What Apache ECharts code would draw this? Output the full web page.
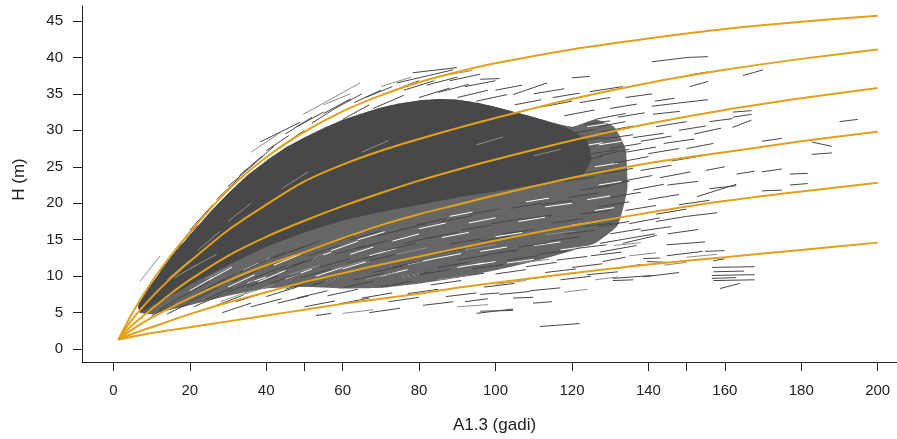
<!DOCTYPE html>
<html><head><meta charset="utf-8">
<script src="https://cdn.jsdelivr.net/npm/echarts@6/dist/echarts.min.js"></script>
<style>html,body{margin:0;padding:0;background:#fff}#c{width:897px;height:439px}</style>
</head><body><div id="c"></div>
<script>
// ---- data ----
const xTickValues = [0,20,40,50,60,80,100,120,140,150,160,180,200];
const xLabelValues = [0,20,40,60,80,100,120,140,160,180,200];
const yLabelValues = [0,5,10,15,20,25,30,35,40,45];
const ageGrid = [1.3,5,10,15,20,30,40,50,60,70,80,90,100,120,140,160,180,200];
const curve1 = [1.3,5.0,9.2,12.8,16.0,21.8,26.3,29.8,32.6,34.8,36.6,38.0,39.2,41.1,42.6,43.9,44.9,45.7];
const curve2 = [1.3,4.1,7.1,9.7,12.0,16.3,19.8,23.0,25.3,27.2,28.8,30.3,31.7,34.3,36.5,38.3,39.8,41.1];
const curve3 = [1.3,3.3,5.5,7.6,9.5,12.8,15.4,17.6,19.6,21.4,23.1,24.6,26.0,28.6,30.9,32.8,34.4,35.8];
const curve4 = [1.3,2.7,4.3,5.7,7.0,9.4,11.5,13.3,15.2,17.0,18.5,19.8,21.1,23.5,25.5,27.0,28.5,29.8];
const curve5 = [1.3,2.1,3.0,3.9,4.8,6.4,7.8,9.2,10.4,11.6,12.7,13.8,14.9,16.9,18.7,20.3,21.6,22.8];
const curve6 = [1.3,1.7,2.2,2.6,3.0,3.8,4.6,5.4,6.2,6.9,7.6,8.4,9.1,10.4,11.6,12.6,13.6,14.6];
// dense core of the tree-height segments (outline, age / height)
const corePoly = [[6.5,6],[10,8.9],[15,12.5],[20,15.6],[25,18.6],[30,21.3],[35,23.8],[40,25.8],[45,27.6],[50,29],[55,30.3],[60,31.4],[65,32.3],[70,33.1],[75,33.7],[80,34.1],[85,34.3],[90,34.2],[95,33.8],[100,33.2],[105,32.5],[110,31.8],[115,31],[120,30],[124,28.5],[125,26],[123,24],[120,23.3],[110,22.5],[100,21.6],[90,20.8],[80,19.8],[70,18.8],[60,17.6],[50,16],[40,14],[30,11.5],[20,8.8],[15,7.3],[10,5.9],[7,5]];
// streaky zone around the core
const streakPoly = [[6.5,6],[10,8.9],[15,12.5],[20,15.6],[30,21.3],[40,25.8],[50,29],[60,31.4],[70,33.1],[80,34.1],[90,34.2],[100,33.2],[110,31.8],[120,30.5],[126,31.5],[131,30.5],[134,27.5],[134.5,22],[132,17],[126,14.5],[120,13.5],[110,12],[100,10.8],[90,9.8],[80,9],[70,8.4],[60,8.3],[50,8.5],[40,8.3],[30,7.3],[20,6],[15,5.4],[10,4.8],[7,5]];
// gaps (white streaks) inside the streaky zone [age1, h1, age2, h2]
const gapSegs = [[20,8,26,9.8],[25,9.5,31,11.2],[30,8.5,37,10.2],[34,10.8,41,12.5],[38,9.2,45,10.8],[42,11.5,49,13],[45,9.6,52,11],[50,12,57,13.3],[53,10,60,11.2],[57,13.5,64,14.8],[60,11,67,12.1],[64,15,71,16.1],[67,12.8,74,13.8],[70,10,77,10.9],[73,14.8,80,15.8],[77,11.6,84,12.4],[80,16.5,87,17.3],[84,12.4,91,13.1],[86,15.3,93,16],[90,11.2,97,11.8],[93,17.3,100,18],[96,13.4,103,14],[100,15.4,107,16],[103,11.8,110,12.3],[106,17.5,113,18.1],[110,14.2,117,14.7],[113,19.5,120,20],[117,13.6,124,14.1],[120,17,127,17.5],[124,20.5,130,21],[126,25,132,25.5],[127,28,133,28.5],[122,27.8,128,28.3],[127,22.5,133,23],[126,19,131,19.4],[124,30.5,129,30.9],[35,9,40,9.9],[55,9.2,60,9.9],[75,9.8,81,10.4],[95,11.6,100,12],[62,13,68,14],[88,18.2,94,18.8],[108,20.2,114,20.7]];
// individual segments [age1, h1, age2, h2]
const segDark = [
[8,7.5,14,11.5],[12,10.5,18,14.5],[16,13.5,22,17],[20,16.3,26,19.8],[24,18.5,30,21.8],[27,20.5,33,23.5],[30,22.3,36,25],[33,23.8,39,26.5],[36,25,42,27.8],[38.4,28.4,48.9,31.1],[40,27.2,46,29.3],[43,27.5,50,30],[45,29.5,52,31.8],[48,30.5,55,32.5],[52,31,58,33],[55,32.3,62,34.3],[58,33,65,35],[60,31.5,67,33.5],[63,33.8,70,35.5],[66,34.5,73,36],[68,33,76,34.8],[72,35.2,80,36.8],[74.2,36.5,88.9,38.3],[78.4,37.9,89.9,38.6],[76,35.5,84,36.8],[80,34.5,88,35.8],[82,36.2,90,37.3],[85,35.2,93,36.3],[88,36.8,96,37.7],[90,34.5,98,35.5],[92,36,100,36.8],[96,37,101,37.1],[95,34,103,34.9],[100,35.5,107,36.2],[104.6,34.9,113.5,36.5],[105,33.5,112,34.2],[110,35,118,35.7],[112,33.2,120,34],[115,34.5,122,35.1],[120,37.2,124.7,37.4],[118,32,126,32.8],[122,33.8,130,34.5],[124.7,35.3,133.3,36],[126,31.5,134,32.3],[130,33,137,33.6],[128,29.8,136,30.6],[132,31.8,139,32.4],[134,34.5,141,35],[136,29,144,29.6],
[140.9,39.4,150.3,40.0],[150.3,40,155.6,40.1],[150.8,37.6,155.6,38],[164.7,37.5,170,38.3],[150.8,36,155.6,36.7],[141.7,34,146.9,34.4],[140.9,33.3,148.8,33.8],[148.8,33.8,155.6,34.2],[141.2,32.2,148.2,32.6],[162.1,32.5,167,32.7],[162.1,31.8,167,32.2],[162,30.4,167,31.4],[190,31.2,194.8,31.5],[169.7,28.5,174.9,28.9],[182.7,28.4,188,27.8],[182.7,26.7,188,26.9],[169.7,24.3,174.9,24.7],[163.1,24,167.8,24.4],[177,24,181.7,24.1],[177,22.5,181.7,22.7],[169.7,21.7,174.9,21.8],[156,22,163,22.4],[152.7,20.9,163,22.6],
[127,30.5,134,31.2],[128,28.8,136,29.4],[130,27.5,138,28.2],[127,26.5,135,27.4],[131,25.5,140,26.4],[134,27,142,27.7],[138,28.5,146,29.2],[140,26.8,148,27.5],[142,30.5,150,31.2],[144,28.2,152,28.8],[146,25.8,154,26.5],[148,30,155,30.6],[150,27.5,157,28.2],[152,29.5,159,30.3],[138,24.5,146,25.2],[143,23.5,151,24.3],[128,24,136,24.8],[133,23,141,23.8],[127,22.2,135,23],[136,21.8,144,22.6],[140,20.5,148,21.2],[145,22.5,153,23],[130,20.8,138,21.5],[148,19.8,156,20.4],[127,19.5,135,20.2],[134,19,142,19.7],[142,18.5,150,19.2],[150,18.2,158,18.7],[155,24.5,160,25],[153,26.5,160,27],[156,31.2,162,31.6],
[127.3,14.5,141.7,15.8],[127.3,13.3,136.9,14.2],[144.8,14.3,154.8,14.7],[144.8,12.8,154.2,13.4],[154.8,13.4,160,13.5],[138.6,12.4,143,12.5],[139.6,12,144.8,11.9],[156.9,12.1,160,12.4],[130.7,9.4,136,9.5],[138.6,9.9,148,10.5],[156.6,11.2,167.8,11.3],[157,10.6,165,10.7],[156.6,10.1,167.8,10.2],[156.6,9.7,163,9.8],[157,9.4,167.8,9.5],[158.7,8.3,163.9,9.0],[127,16.8,135,17.5],[130,15.8,138,16.5],[135,17.2,143,18],[138,16.2,146,16.8],[142,17.5,150,18.2],[145,15.8,153,16.4],[128,12,134,12.6],[131,11,138,11.6],
[8,5,14,7],[10,4.6,16,6.2],[12,5.4,18,7.3],[14,4.8,20,6.3],[18,7.2,25,9.2],[20,6.5,27,8.3],[22,7.6,29,9.6],[21,5.8,28,7.4],[24,6.8,31,8.4],[25,8.4,32,10.3],[27,6,34,7.4],[28.5,5,36,6.3],[30,7.8,37,9.3],[31,9.2,38,10.9],
[32,6.5,40,7.8],[33,10.5,40,12.2],[35,8.5,43,10],[36,5.8,44,6.9],[37,9.8,45,11.4],[38,11.8,45,13.3],[40,7.2,48,8.5],[41,9,49,10.4],[42,12.5,50,14.1],[43,6.3,51,7.3],[44,10.8,52,12.3],[45,8.2,53,9.5],
[46,13.3,54,14.8],[47,11.5,55,12.9],[48,7,56,8],[49,9.8,57,11],[50,5.8,58,6.6],[51,12.8,59,14.2],[52,8.8,60,9.9],[53,4.6,57,4.9],[54,11.2,62,12.4],[55,14.2,63,15.5],[56,7.3,64,8.2],[57,10,65,11.1],[58,13,66,14.2],[59,6.2,67,7],[60,8.4,68,9.3],
[61,11.8,69,12.9],[62,15,70,16.2],[63,9.5,71,10.4],[64,13.8,72,14.9],[65,7,73,7.7],[66,12,74,13],[67,5.0,75,5.6],[68,10.5,76,11.4],[69,15.5,77,16.6],[70,8.5,78,9.3],[71,13.5,79,14.5],[72,6.5,80,7.1],[73,11.2,81,12.1],[74,16.2,82,17.2],[75,9.8,83,10.6],
[76,14.5,84,15.4],[77,7.6,85,8.2],[78,12.5,86,13.3],[79,17,87,17.9],[80,10.2,88,10.9],[81,6,89,6.5],[82,15.2,90,16],[83,8.8,91,9.4],[84,13,92,13.8],[85,11.2,93,11.9],[86,17.5,94,18.3],[87,7.2,95,7.7],[88,14.4,96,15.1],[89,9.8,97,10.4],[90,12.2,98,12.9],[91,16.3,99,17],[92,6.5,98,6.9],
[93,18.5,101,19.2],[94,11,102,11.6],[95,4.9,104.6,5.5],[96,14.8,104,15.5],[97,8.5,105,9],[98,13,106,13.6],[99,17.2,107,17.9],[100,10.3,108,10.9],[101,7.5,109,7.9],[102,15.8,110,16.4],[103,12.2,111,12.8],[104,19.3,112,20],[105,9.4,113,9.9],[106,14,114,14.6],[107,17.8,115,18.4],[108,11.3,116,11.9],[109,8,117,8.4],[110,16,118,16.6],[111,13,119,13.5],[112,19.8,120,20.4],[111.6,3.1,122,3.5],[113,10.5,121,11],[114,14.8,122,15.4],[115,17.3,123,17.9],[116,12.2,124,12.7],[117,9.5,125,10],[118,15.8,126,16.3],[119,20.8,127,21.4],[120,11.2,128,11.7],[121,13.8,129,14.3],[122,18.5,130,19],[123,16.8,131,17.3],[124,10.2,132,10.6],[125,12.8,133,13.3],
[115,24.5,123,25.2],[117,27,125,27.6],[118,23,126,23.6],[120,25.8,128,26.4],[121,28.5,128,29],[122,21.8,130,22.4],[124,24.2,132,24.8],[125,26.8,132,27.3],[119,29.5,126,30.1],[123,30.8,130,31.3],
[96,5.2,104.6,5.3],[109.8,6.3,114.8,6.5],[104.6,7,109.8,7.1],[96,7.5,101,7.7],[130.7,9.7,141,10.1],[133.3,14.5,142.2,15.6]
];
const segLight = [
[7,9.3,12.3,12.8],[49.7,32.2,64.6,36.5],[36,27,44,29.8],[55,33.5,62,35],[70,36,78,37.3],[86,37.5,94,38.2],[28,6.5,36,8],[34,7.5,42,8.8],[46,10.2,54,11.5],[58,11,66,12.1],[66,9.6,74,10.5],[74,13,82,13.9],[85,9.5,93,10.1],[92,13.6,100,14.3],[100,8.9,108,9.4],[106,11.8,114,12.3],[113,15.7,121,16.2],[90,5.8,98,6.1],[60,4.9,68,5.4],[118,7.8,124,8.2],[126,9.5,132,9.9],[135,12.8,142,13.2],[144,11.5,150,11.9],[150,12.6,158,13],[131,14.2,138,14.6],[20,11,27,13],[24,9.6,31,11.4],[16,9.8,22,11.6],
[14,9.5,20,12.2],[22,13.5,28,16.2],[30,17.5,36,20],[44,22,51,24.3],[65,27,72,28.6],[95,28,102,29.1],[110,26.5,117,27.4]
];

// ---- chart ----
const chart = echarts.init(document.getElementById('c'), null, {renderer:'canvas'});
const orange = '#E2A11C';
const ff = 'Liberation Sans, Arial, sans-serif';
function curveSeries(vals){
  return {type:'line', data: ageGrid.map((a,i)=>[a, vals[i]]), smooth:0.3, showSymbol:false,
    lineStyle:{color:orange, width:2}, z:10, silent:true};
}
function segSeries(list, color, z){
  return {type:'custom', data:list, encode:{x:[0,2], y:[1,3]}, silent:true, z:z,
    renderItem:function(params, api){
      const p1 = api.coord([api.value(0), api.value(1)]);
      const p2 = api.coord([api.value(2), api.value(3)]);
      return {type:'line', shape:{x1:p1[0],y1:p1[1],x2:p2[0],y2:p2[1]}, style:{stroke:color, lineWidth:1}};
    }};
}
function polySeries(poly, fill, z){
  return {type:'custom', data:poly, encode:{x:0,y:1}, silent:true, z:z,
    renderItem:function(params, api){
      if(params.dataIndex!==0) return null;
      const pts = poly.map(p=>api.coord(p));
      return {type:'polygon', shape:{points:pts, smooth:0.15}, style:{fill:fill}};
    }};
}
const axisText = {color:'#222', fontSize:15, fontFamily:ff};
chart.setOption({
  animation:false,
  grid:{left:82, right:0, top:6, bottom:75, containLabel:false},
  xAxis:{type:'value', min:-8.2, max:205.05,
    name:'A1.3 (gadi)', nameLocation:'middle', nameGap:55,
    nameTextStyle:{color:'#222', fontSize:17, fontFamily:ff, padding:[0,0,0,10]},
    axisLine:{onZero:false, lineStyle:{color:'#222', width:1}},
    axisTick:{customValues:xTickValues, length:9, lineStyle:{color:'#222'}},
    axisLabel:Object.assign({customValues:xLabelValues, margin:21}, axisText),
    splitLine:{show:false}},
  yAxis:{type:'value', min:-1.77, max:47.05,
    name:'H (m)', nameLocation:'middle', nameGap:54, nameRotate:90,
    nameTextStyle:{color:'#222', fontSize:17, fontFamily:ff, padding:[0,0,0,9]},
    axisLine:{show:true, onZero:false, lineStyle:{color:'#222', width:1}},
    axisTick:{show:true, customValues:yLabelValues, length:9, lineStyle:{color:'#222'}},
    axisLabel:Object.assign({customValues:yLabelValues, margin:19}, axisText),
    splitLine:{show:false}},
  series:[
    polySeries(streakPoly, '#666666', 1),
    segSeries(gapSegs, '#ffffff', 2),
    polySeries(corePoly, '#484848', 3),
    segSeries(segDark, '#474747', 4),
    segSeries(segLight, '#8e8e8e', 5),
    curveSeries(curve1), curveSeries(curve2), curveSeries(curve3),
    curveSeries(curve4), curveSeries(curve5), curveSeries(curve6)
  ]
});
</script></body></html>
